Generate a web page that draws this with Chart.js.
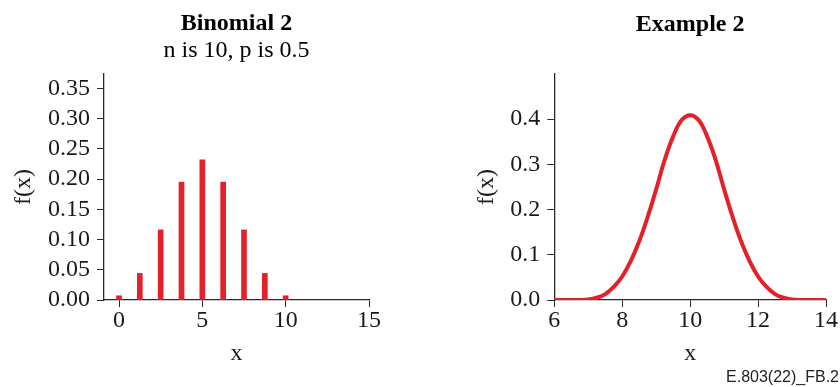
<!DOCTYPE html>
<html>
<head>
<meta charset="utf-8">
<script src="https://cdn.jsdelivr.net/npm/chart.js@4/dist/chart.umd.min.js"></script>
<style>
  html, body { margin: 0; padding: 0; background: #ffffff; }
  #wrap { position: relative; width: 840px; height: 387px; overflow: hidden; }
  #c1 { position: absolute; left: 0; top: 0; }
  #c2 { position: absolute; left: 420px; top: 0; }
  #note { position: absolute; right: 1px; top: 369px; font: 16px "Liberation Sans", Arial, sans-serif; line-height: 16px; color: #222; }
</style>
</head>
<body>
<div id="wrap">
  <canvas id="c1" width="420" height="387"></canvas>
  <canvas id="c2" width="420" height="387"></canvas>
  <div id="note">E.803(22)_FB.2</div>
</div>
<script>
// ---- Left panel: Binomial 2 ----
const binomX = [0, 1.25, 2.5, 3.75, 5, 6.25, 7.5, 8.75, 10];
const binomY = [0.007, 0.044, 0.116, 0.195, 0.232, 0.195, 0.116, 0.044, 0.007];
const leftXTicks = [0, 5, 10, 15];
const leftYTicks = [0, 0.05, 0.10, 0.15, 0.20, 0.25, 0.30, 0.35];
const leftYTickLabels = ['0.00', '0.05', '0.10', '0.15', '0.20', '0.25', '0.30', '0.35'];

// ---- Right panel: Example 2 ----
const curveX = [6, 6.25, 6.5, 6.75, 7, 7.25, 7.5, 7.75, 8, 8.25, 8.5, 8.75, 9, 9.25, 9.5, 9.75, 10,
                10.25, 10.5, 10.75, 11, 11.25, 11.5, 11.75, 12, 12.25, 12.5, 12.75, 13, 13.25, 13.5, 13.75, 14];
const curveY = [0, 0, 0, 0, 0.001, 0.005, 0.013, 0.029, 0.052, 0.086, 0.130, 0.184, 0.245, 0.310, 0.362, 0.398, 0.409,
                0.398, 0.362, 0.310, 0.245, 0.184, 0.130, 0.086, 0.052, 0.029, 0.013, 0.005, 0.001, 0, 0, 0, 0];
const rightXTicks = [6, 8, 10, 12, 14];
const rightYTicks = [0, 0.1, 0.2, 0.3, 0.4];
const rightYTickLabels = ['0.0', '0.1', '0.2', '0.3', '0.4'];

const RED = '#e4202a';
const AXIS = '#2a2a2a';
const SERIF = '"Liberation Serif", "Times New Roman", serif';

function fixedTicks(values) {
  return function (scale) { scale.ticks = values.map(v => ({ value: v })); };
}
function labelFrom(values, labels) {
  return function (v) {
    const i = values.findIndex(t => Math.abs(t - v) < 1e-9);
    return i >= 0 ? (labels ? labels[i] : String(values[i])) : '';
  };
}

function xScale(min, max, ticks) {
  return {
    type: 'linear', min: min, max: max, offset: false,
    afterBuildTicks: fixedTicks(ticks),
    afterFit: s => { s.height = 87; },
    grid: { display: true, drawOnChartArea: false, drawTicks: true, tickLength: 7, color: AXIS, lineWidth: 1, offset: false },
    border: { display: true, color: AXIS, width: 1.3 },
    ticks: { color: '#1a1a1a', font: { family: SERIF, size: 24, lineHeight: 1.0 }, padding: 2, maxRotation: 0, autoSkip: false,
             callback: labelFrom(ticks) },
    title: { display: true, text: 'x', color: '#1a1a1a', font: { family: SERIF, size: 24, lineHeight: 1.1 }, padding: { top: 0, bottom: 20 } }
  };
}
function yScale(max, ticks, labels, width, titlePad) {
  return {
    type: 'linear', min: 0, max: max,
    afterBuildTicks: fixedTicks(ticks),
    afterFit: s => { s.width = width; },
    grid: { display: true, drawOnChartArea: false, drawTicks: true, tickLength: 7, color: AXIS, lineWidth: 1 },
    border: { display: true, color: AXIS, width: 1.3 },
    ticks: { color: '#1a1a1a', font: { family: SERIF, size: 24, lineHeight: 1.0 }, padding: 7, autoSkip: false,
             callback: labelFrom(ticks, labels) },
    title: { display: true, text: 'f(x)', color: '#1a1a1a', font: { family: SERIF, size: 24, lineHeight: 1.1 }, padding: { top: titlePad, bottom: 0 } }
  };
}

new Chart(document.getElementById('c1'), {
  type: 'bar',
  data: {
    datasets: [{
      data: binomX.map((x, i) => ({ x: x, y: binomY[i] })),
      backgroundColor: RED, borderWidth: 0, barThickness: 5
    }]
  },
  options: {
    responsive: false, animation: false, devicePixelRatio: 1,
    layout: { padding: { left: 0, right: 51, top: 0, bottom: 0 } },
    plugins: {
      legend: { display: false }, tooltip: { enabled: false },
      title: { display: true, fullSize: false, text: 'Binomial 2', color: '#000', font: { family: SERIF, size: 24, weight: 'bold', lineHeight: 1.1 }, padding: { top: 11, bottom: 0 } },
      subtitle: { display: true, fullSize: false, text: 'n is 10, p is 0.5', color: '#000', font: { family: SERIF, size: 24, lineHeight: 1.1 }, padding: { top: 0, bottom: 10.2 } }
    },
    scales: {
      x: xScale(-0.9, 15, leftXTicks),
      y: yScale(0.374, leftYTicks, leftYTickLabels, 104, 10.8)
    }
  }
});

new Chart(document.getElementById('c2'), {
  type: 'line',
  data: {
    datasets: [{
      data: curveX.map((x, i) => ({ x: x, y: curveY[i] })),
      borderColor: RED, borderWidth: 4, pointRadius: 0, fill: false, tension: 0.4
    }]
  },
  options: {
    responsive: false, animation: false, devicePixelRatio: 1,
    layout: { padding: { left: 0, right: 13.3, top: 0, bottom: 0 } },
    plugins: {
      legend: { display: false }, tooltip: { enabled: false },
      title: { display: true, fullSize: false, text: 'Example 2', color: '#000', font: { family: SERIF, size: 24, weight: 'bold', lineHeight: 1.1 }, padding: { top: 11.8, bottom: 35.8 } }
    },
    scales: {
      x: xScale(6, 14, rightXTicks),
      y: yScale(0.5, rightYTicks, rightYTickLabels, 134.3, 53.8)
    }
  }
});
</script>
</body>
</html>
